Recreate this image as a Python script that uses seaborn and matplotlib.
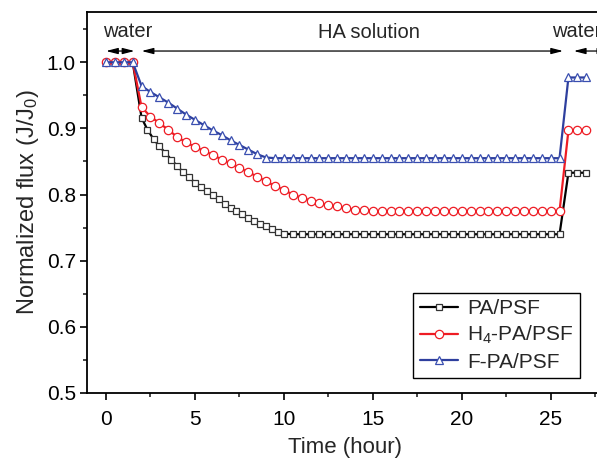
import numpy as np
import matplotlib
matplotlib.use('Agg')
from matplotlib import pyplot as plt
import seaborn as sns

# time (hour) for PA/PSF, sampled more finely during the decline
time_pa = [0, 0.5, 1, 1.5,
           2, 2.33, 2.67, 3, 3.33, 3.67, 4, 4.33, 4.67, 5, 5.33, 5.67, 6,
           6.33, 6.67, 7, 7.33, 7.67, 8, 8.33, 8.67, 9, 9.33, 9.67, 10,
           10.5, 11, 11.5, 12, 12.5, 13, 13.5, 14, 14.5, 15, 15.5, 16, 16.5,
           17, 17.5, 18, 18.5, 19, 19.5, 20, 20.5, 21, 21.5, 22, 22.5, 23,
           23.5, 24, 24.5, 25, 25.5,
           26, 26.5, 27]
flux_pa = [1.0, 1.0, 1.0, 1.0,
           0.916, 0.898, 0.884, 0.873, 0.863, 0.853, 0.843, 0.834, 0.826,
           0.818, 0.811, 0.805, 0.799, 0.793, 0.786, 0.780, 0.775, 0.770,
           0.765, 0.760, 0.756, 0.752, 0.748, 0.744, 0.741,
           0.740, 0.740, 0.740, 0.740, 0.740, 0.740, 0.740, 0.740, 0.740,
           0.740, 0.740, 0.740, 0.740, 0.740, 0.740, 0.740, 0.740, 0.740,
           0.740, 0.740, 0.740, 0.740, 0.740, 0.740, 0.740, 0.740, 0.740,
           0.740, 0.740, 0.740, 0.740,
           0.833, 0.833, 0.833]

# time (hour) for H4-PA/PSF and F-PA/PSF
time_half = [0, 0.5, 1, 1.5, 2, 2.5, 3, 3.5, 4, 4.5, 5, 5.5, 6, 6.5, 7,
             7.5, 8, 8.5, 9, 9.5, 10, 10.5, 11, 11.5, 12, 12.5, 13, 13.5,
             14, 14.5, 15, 15.5, 16, 16.5, 17, 17.5, 18, 18.5, 19, 19.5, 20,
             20.5, 21, 21.5, 22, 22.5, 23, 23.5, 24, 24.5, 25, 25.5, 26,
             26.5, 27]
flux_h4 = [1.0, 1.0, 1.0, 1.0,
           0.932, 0.918, 0.908, 0.898, 0.887, 0.879, 0.872, 0.866, 0.860,
           0.853, 0.847, 0.840, 0.834, 0.827, 0.820, 0.813, 0.807, 0.800,
           0.795, 0.791, 0.787, 0.784, 0.782, 0.779, 0.777, 0.776,
           0.775, 0.775, 0.775, 0.775, 0.775, 0.775, 0.775, 0.775, 0.775,
           0.775, 0.775, 0.775, 0.775, 0.775, 0.775, 0.775, 0.775, 0.775,
           0.775, 0.775, 0.775, 0.775,
           0.897, 0.897, 0.897]
flux_f = [1.0, 1.0, 1.0, 1.0,
          0.964, 0.955, 0.947, 0.939, 0.930, 0.921, 0.913, 0.905, 0.897,
          0.890, 0.882, 0.875, 0.868, 0.861, 0.856,
          0.855, 0.855, 0.855, 0.855, 0.855, 0.855, 0.855, 0.855, 0.855,
          0.855, 0.855, 0.855, 0.855, 0.855, 0.855, 0.855, 0.855, 0.855,
          0.855, 0.855, 0.855, 0.855, 0.855, 0.855, 0.855, 0.855, 0.855,
          0.855, 0.855, 0.855, 0.855, 0.855, 0.855,
          0.977, 0.977, 0.977]

labels = ['PA/PSF', 'H$_4$-PA/PSF', 'F-PA/PSF']

if __name__ == '__main__':
    sns.set_style('ticks')
    plt.rcParams['font.family'] = ['Liberation Sans', 'DejaVu Sans']
    plt.rcParams['mathtext.default'] = 'regular'

    f = plt.figure(figsize=(5.97, 4.59), dpi=100)
    ax = f.add_axes([87 / 597, 66 / 459, 517 / 597, 381 / 459])

    sns.lineplot(x=time_pa, y=flux_pa, ax=ax, color='black', lw=1.6,
                 marker='s', ms=4.3, mfc='white', mec='#333333', mew=0.9,
                 label=labels[0])
    sns.lineplot(x=time_half, y=flux_h4, ax=ax, color='#ee1c24', lw=1.6,
                 marker='o', ms=6, mfc='white', mec='#ee1c24', mew=0.9,
                 label=labels[1])
    sns.lineplot(x=time_half, y=flux_f, ax=ax, color='#2e3f9e', lw=1.6,
                 marker='^', ms=6, mfc='white', mec='#3a4fb0', mew=0.9,
                 label=labels[2])

    ax.set_xlim(-1.07, 28)
    ax.set_ylim(0.5, 1.076)
    ax.set_xticks([0, 5, 10, 15, 20, 25])
    ax.set_xticks(np.arange(2.5, 28, 5), minor=True)
    ax.set_yticks([0.5, 0.6, 0.7, 0.8, 0.9, 1.0])
    ax.set_yticks(np.arange(0.55, 1.06, 0.1), minor=True)
    ax.yaxis.set_major_formatter(plt.FormatStrFormatter('%.1f'))
    ax.tick_params(which='major', direction='out', length=5, width=1.2,
                   labelsize=15, colors='black')
    ax.tick_params(which='minor', direction='out', length=3, width=1.2)
    ax.tick_params(axis='x', which='major', pad=7)
    ax.tick_params(axis='y', which='major', pad=3)
    ax.tick_params(top=False, right=False, which='both')
    for s in ax.spines.values():
        s.set_linewidth(1.3)
        s.set_color('black')
    ax.set_xlabel('Time (hour)', fontsize=16, labelpad=6)
    ax.set_ylabel('Normalized flux (J/J$_0$)', fontsize=17, labelpad=4)

    # phase arrows
    arr = dict(arrowstyle='<|-|>,head_length=0.7,head_width=0.18',
               color='black', lw=0.9, shrinkA=0, shrinkB=0)
    ax.annotate('', xy=(0, 1.017), xytext=(1.6, 1.017), arrowprops=arr)
    ax.annotate('', xy=(2.0, 1.017), xytext=(25.7, 1.017), arrowprops=arr)
    ax.annotate('', xy=(26.3, 1.017), xytext=(28.3, 1.017),
                arrowprops=arr, annotation_clip=False)
    ax.text(1.2, 1.047, 'water', ha='center', va='center', fontsize=14.5)
    ax.text(14.8, 1.045, 'HA solution', ha='center', va='center',
            fontsize=14.5)
    ax.text(25.1, 1.047, 'water', ha='left', va='center', fontsize=14.5,
            clip_on=False)

    leg = ax.legend(loc='lower right', bbox_to_anchor=(580 / 597, 81 / 459),
                    bbox_transform=f.transFigure, borderaxespad=0,
                    fontsize=15, fancybox=False, framealpha=1,
                    edgecolor='black', handlelength=1.85, labelspacing=0.3,
                    handletextpad=0.45, borderpad=0.3)
    leg.get_frame().set_linewidth(1.0)

    f.savefig('out.png', dpi=100)
